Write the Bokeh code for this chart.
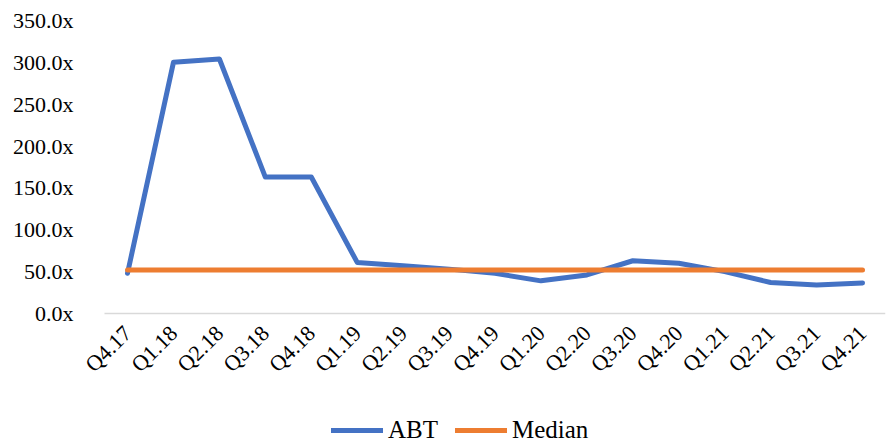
import math
from bokeh.plotting import figure
from bokeh.models import Range1d, Legend, LegendItem, PrintfTickFormatter, FixedTicker
from bokeh.embed import file_html
from bokeh.resources import INLINE

quarters = ["Q4.17", "Q1.18", "Q2.18", "Q3.18", "Q4.18", "Q1.19", "Q2.19", "Q3.19", "Q4.19",
            "Q1.20", "Q2.20", "Q3.20", "Q4.20", "Q1.21", "Q2.21", "Q3.21", "Q4.21"]
abt = [48, 300, 304, 163, 163, 61, 57, 53, 48, 39, 46, 63, 60, 50, 37, 34, 36.5]
median_val = 52
median = [median_val] * len(quarters)
y_ticks = [0, 50, 100, 150, 200, 250, 300, 350]

FONT = "Liberation Serif"

idx = list(range(len(quarters)))
n = len(quarters)

# frame covers the whole canvas (axes pinned inside it) so no label is clipped
p = figure(x_range=Range1d(-2.765, n - 0.5), y_range=Range1d(-157.7, 373.9),
           width=887, height=445, output_backend="svg", toolbar_location=None,
           min_border_left=0, min_border_right=2, min_border_top=0, min_border_bottom=0)
p.outline_line_color = None
p.xgrid.grid_line_color = None
p.ygrid.grid_line_color = None

r1 = p.line(idx, abt, line_color="#4472C4", line_width=5, line_cap="round", line_join="round")
r2 = p.line(idx, median, line_color="#ED7D31", line_width=5, line_cap="round", line_join="round")

p.yaxis.fixed_location = -0.5
p.yaxis.bounds = (0, 350)
p.yaxis.ticker = FixedTicker(ticks=y_ticks)
p.yaxis.formatter = PrintfTickFormatter(format="%.1fx")
p.yaxis.axis_line_color = None
p.yaxis.major_tick_line_color = None
p.yaxis.minor_tick_line_color = None
p.yaxis.major_label_text_font = FONT
p.yaxis.major_label_text_font_size = "22px"
p.yaxis.major_label_text_color = "#000000"
p.yaxis.major_label_standoff = 25

p.xaxis.fixed_location = 0
p.xaxis.bounds = (-0.5, n - 0.5)
p.xaxis.ticker = FixedTicker(ticks=idx)
p.xaxis.major_label_overrides = {i: q for i, q in zip(idx, quarters)}
p.xaxis.axis_line_color = "#D9D9D9"
p.xaxis.axis_line_width = 1.5
p.xaxis.major_tick_line_color = None
p.xaxis.minor_tick_line_color = None
p.xaxis.major_label_orientation = math.pi / 4
p.xaxis.major_label_text_font = FONT
p.xaxis.major_label_text_font_size = "22px"
p.xaxis.major_label_text_color = "#000000"
p.xaxis.major_label_standoff = 10

legend = Legend(items=[LegendItem(label="ABT", renderers=[r1]),
                       LegendItem(label="Median", renderers=[r2])],
                orientation="horizontal", location=(331, 1))
legend.label_text_font = FONT
legend.label_text_font_size = "25px"
legend.label_text_color = "#000000"
legend.glyph_width = 52
legend.label_standoff = 5
legend.spacing = 17
legend.border_line_color = None
legend.background_fill_alpha = 0
legend.margin = 0
legend.padding = 0
p.add_layout(legend, "center")

open("out.html", "w").write(file_html(p, INLINE))
